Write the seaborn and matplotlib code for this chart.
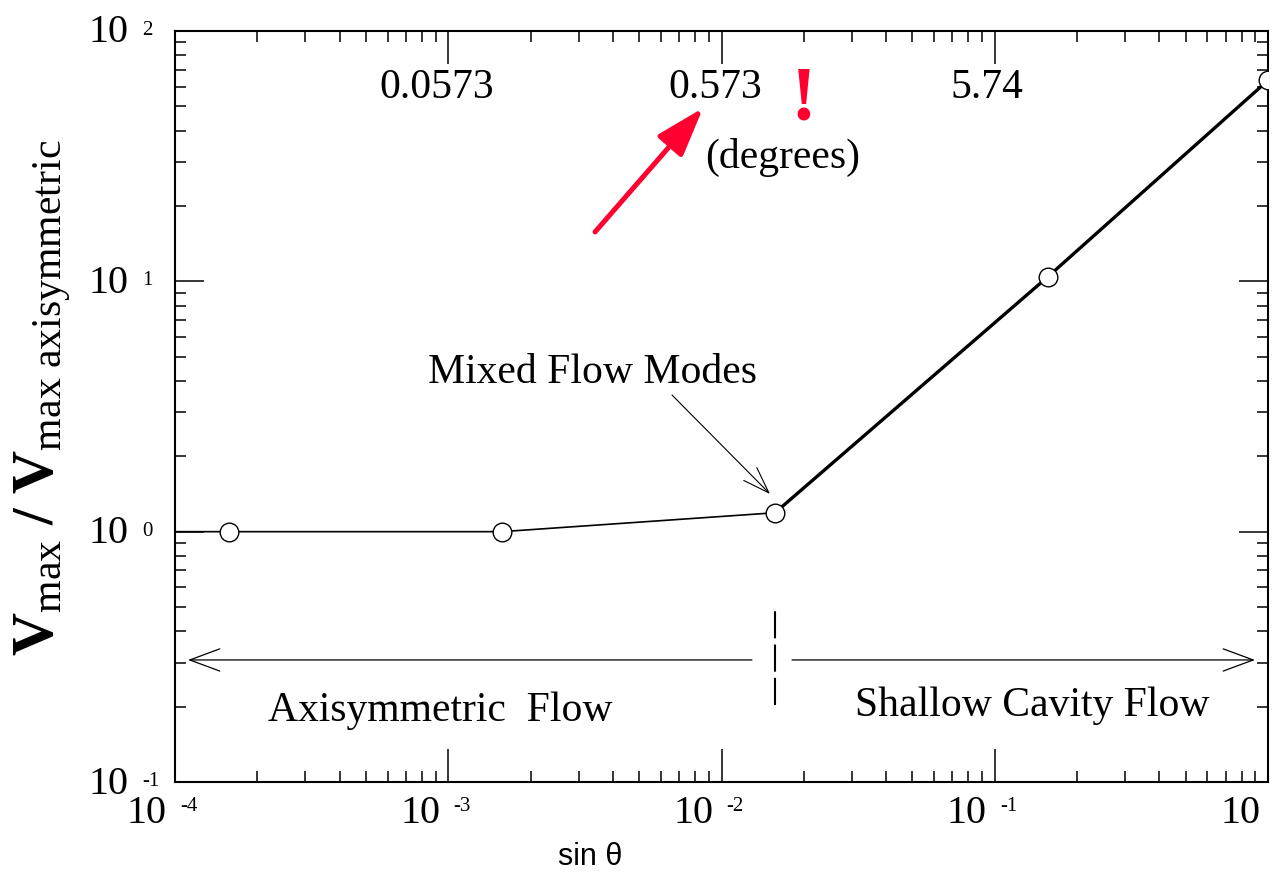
import seaborn as sns
import matplotlib
matplotlib.use("Agg")
import matplotlib.pyplot as plt

sns.set_theme(style="ticks")
plt.rcParams['font.family'] = ['Liberation Serif', 'DejaVu Serif']
plt.rcParams['text.color'] = 'black'
plt.rcParams['axes.labelcolor'] = 'black'
plt.rcParams['mathtext.fontset'] = 'custom'
plt.rcParams['mathtext.rm'] = 'Liberation Serif'
plt.rcParams['mathtext.bf'] = 'Liberation Serif:bold'
plt.rcParams['mathtext.it'] = 'Liberation Serif:italic'

# data
sin_theta = [1.57e-4, 1.57e-3, 1.57e-2, 0.156, 1.0]
v_ratio = [1.0, 1.0, 1.19, 10.4, 63.5]
line_start_x = 1e-4
line_start_y = 1.0

x_ticks = [1e-4, 1e-3, 1e-2, 1e-1, 1.0]
x_exps = ["-4", "-3", "-2", "-1", "0"]
y_ticks = [0.1, 1.0, 10.0, 100.0]
y_exps = ["-1", "0", "1", "2"]

deg_labels = ["0.0573", "0.573", "5.74"]
deg_pos = [0.2397, 0.494, 0.743]

PX = 0.72  # points per pixel at dpi 100
RED = "#ff0030"
FS = 30

fig = plt.figure(figsize=(12.73, 8.76), dpi=100)
ax = fig.add_axes([175 / 1273, 1 - 782 / 876, 1093 / 1273, 751 / 876])

thin_x = [line_start_x] + sin_theta[:3]
thin_y = [line_start_y] + v_ratio[:3]
thick_x = sin_theta[2:]
thick_y = v_ratio[2:]

sns.lineplot(x=thin_x, y=thin_y, ax=ax, color="black", lw=1.2, sort=False, estimator=None)
sns.lineplot(x=thick_x, y=thick_y, ax=ax, color="black", lw=2.4, sort=False, estimator=None)
sns.scatterplot(x=sin_theta, y=v_ratio, ax=ax, marker="o", s=180, color="white",
                edgecolor="black", linewidth=1.0, zorder=3)

ax.set(xscale="log", yscale="log", xlim=(1e-4, 1), ylim=(0.1, 100))
ax.set_xticks(x_ticks)
ax.set_yticks(y_ticks)
for s in ax.spines.values():
    s.set_linewidth(1.5)
    s.set_color("black")
ax.tick_params(which="both", direction="in", top=True, right=True,
               labelbottom=False, labelleft=False, color="black", width=1.1)
ax.tick_params(axis="x", which="major", length=33 * PX)
ax.tick_params(axis="y", which="major", length=29 * PX)
ax.tick_params(which="minor", length=11 * PX)

# tick labels as "10" with a small exponent
for v, e in zip(x_ticks, x_exps):
    ax.annotate("10", xy=(v, 0), xycoords=ax.get_xaxis_transform(),
                xytext=(-8 * PX, -13 * PX), textcoords="offset points",
                ha="right", va="top", fontsize=29, annotation_clip=False)
    ax.annotate(e, xy=(v, 0), xycoords=ax.get_xaxis_transform(),
                xytext=(5 * PX, -15 * PX), textcoords="offset points",
                ha="left", va="top", fontsize=15, annotation_clip=False)
for v, e in zip(y_ticks, y_exps):
    ax.annotate("10", xy=(0, v), xycoords=ax.get_yaxis_transform(),
                xytext=(-47 * PX, -2 * PX), textcoords="offset points",
                ha="right", va="center", fontsize=29, annotation_clip=False)
    ax.annotate(e, xy=(0, v), xycoords=ax.get_yaxis_transform(),
                xytext=(-33 * PX, 10 * PX), textcoords="offset points",
                ha="left", va="top", fontsize=15, annotation_clip=False)

ax.set_xlabel("sin θ", family=["Liberation Sans", "DejaVu Sans"], fontsize=22)
ax.xaxis.set_label_coords(0.38, -0.08)
ax.set_ylabel(r"$\mathbf{V}_{\mathrm{max}}\ \mathbf{/}\ \mathbf{V}_{\mathrm{max\ axisymmetric}}$",
              fontsize=43)
ax.yaxis.set_label_coords(-0.093, 0.511)

# degree scale along the top
for lab, xp in zip(deg_labels, deg_pos):
    ax.text(xp, 0.924, lab, transform=ax.transAxes, ha="center", va="center", fontsize=FS)
ax.text(0.556, 0.832, "(degrees)", transform=ax.transAxes, ha="center", va="center", fontsize=FS)
ax.text(0.5746, 0.907, "!", transform=ax.transAxes, ha="center", va="center",
        fontsize=56, fontweight="bold", color=RED)
ax.annotate("", xy=(0.4831, 0.8975), xytext=(0.3843, 0.7324), xycoords="axes fraction",
            arrowprops=dict(arrowstyle="-|>,head_length=1.5,head_width=0.5", color=RED,
                            lw=3.6, mutation_scale=20, shrinkA=0, shrinkB=0))

# mixed flow modes
ax.text(0.3824, 0.5446, "Mixed Flow Modes", transform=ax.transAxes,
        ha="center", va="center", fontsize=FS)
ax.annotate("", xy=(0.5444, 0.3835), xytext=(0.4547, 0.5153), xycoords="axes fraction",
            arrowprops=dict(arrowstyle="->,head_length=0.95,head_width=0.33", color="black",
                            lw=0.8, mutation_scale=20, shrinkA=0, shrinkB=0))

# flow regimes
ax.annotate("", xy=(0.0119, 0.1625), xytext=(0.5279, 0.1625), xycoords="axes fraction",
            arrowprops=dict(arrowstyle="->,head_length=1.08,head_width=0.4", color="black",
                            lw=0.9, mutation_scale=20, shrinkA=0, shrinkB=0))
ax.annotate("", xy=(0.9881, 0.1625), xytext=(0.5645, 0.1625), xycoords="axes fraction",
            arrowprops=dict(arrowstyle="->,head_length=1.08,head_width=0.4", color="black",
                            lw=0.9, mutation_scale=20, shrinkA=0, shrinkB=0))
ax.axvline(sin_theta[2], ymin=0.1025, ymax=0.229, color="black", lw=1.5, ls=(0, (13, 3)))
ax.text(0.2425, 0.0945, "Axisymmetric  Flow", transform=ax.transAxes,
        ha="center", va="center", fontsize=FS)
ax.text(0.784, 0.1012, "Shallow Cavity Flow", transform=ax.transAxes,
        ha="center", va="center", fontsize=FS)

fig.savefig("out.png", dpi=100, facecolor="white")
